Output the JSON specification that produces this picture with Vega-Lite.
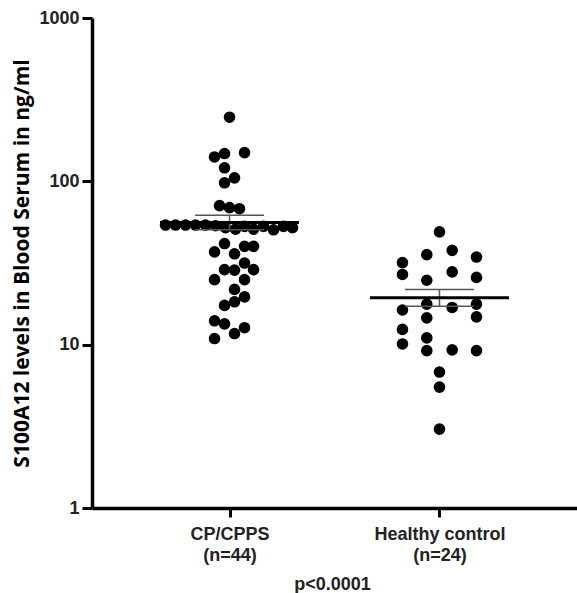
{
  "$schema": "https://vega.github.io/schema/vega-lite/v6.json",
  "width": 485,
  "height": 490,
  "autosize": {"type": "none"},
  "padding": {"left": 92, "top": 18, "right": 0, "bottom": 85},
  "background": "white",
  "config": {"view": {"stroke": null}},
  "datasets": {
    "points": [
      {"group": "CP/CPPS", "value": 247, "swarm": 0},
      {"group": "CP/CPPS", "value": 141, "swarm": -1.5},
      {"group": "CP/CPPS", "value": 148, "swarm": -0.5},
      {"group": "CP/CPPS", "value": 150, "swarm": 1.5},
      {"group": "CP/CPPS", "value": 121, "swarm": -0.5},
      {"group": "CP/CPPS", "value": 105, "swarm": 0.5},
      {"group": "CP/CPPS", "value": 98, "swarm": -0.5},
      {"group": "CP/CPPS", "value": 71, "swarm": -1},
      {"group": "CP/CPPS", "value": 69, "swarm": 0},
      {"group": "CP/CPPS", "value": 68, "swarm": 1},
      {"group": "CP/CPPS", "value": 54, "swarm": -6.4},
      {"group": "CP/CPPS", "value": 54, "swarm": -5.4},
      {"group": "CP/CPPS", "value": 54, "swarm": -4.4},
      {"group": "CP/CPPS", "value": 54, "swarm": -3.4},
      {"group": "CP/CPPS", "value": 54, "swarm": -2.4},
      {"group": "CP/CPPS", "value": 53.5, "swarm": -1.4},
      {"group": "CP/CPPS", "value": 52, "swarm": -0.4},
      {"group": "CP/CPPS", "value": 51, "swarm": 0.6},
      {"group": "CP/CPPS", "value": 53, "swarm": 1.5},
      {"group": "CP/CPPS", "value": 51, "swarm": 2.4},
      {"group": "CP/CPPS", "value": 53, "swarm": 3.4},
      {"group": "CP/CPPS", "value": 50.5, "swarm": 4.4},
      {"group": "CP/CPPS", "value": 53, "swarm": 5.4},
      {"group": "CP/CPPS", "value": 52, "swarm": 6.3},
      {"group": "CP/CPPS", "value": 41.6, "swarm": -0.5},
      {"group": "CP/CPPS", "value": 37, "swarm": -1.5},
      {"group": "CP/CPPS", "value": 40, "swarm": 1.5},
      {"group": "CP/CPPS", "value": 40, "swarm": 2.4},
      {"group": "CP/CPPS", "value": 36, "swarm": 0.5},
      {"group": "CP/CPPS", "value": 31.6, "swarm": 1.5},
      {"group": "CP/CPPS", "value": 28.8, "swarm": -0.5},
      {"group": "CP/CPPS", "value": 28.6, "swarm": 0.5},
      {"group": "CP/CPPS", "value": 28.8, "swarm": 2.4},
      {"group": "CP/CPPS", "value": 25, "swarm": -1.5},
      {"group": "CP/CPPS", "value": 25, "swarm": 1.5},
      {"group": "CP/CPPS", "value": 21.8, "swarm": 0.5},
      {"group": "CP/CPPS", "value": 19.6, "swarm": 1.5},
      {"group": "CP/CPPS", "value": 18.3, "swarm": 0.5},
      {"group": "CP/CPPS", "value": 17.4, "swarm": -0.5},
      {"group": "CP/CPPS", "value": 14, "swarm": -1.5},
      {"group": "CP/CPPS", "value": 13.4, "swarm": -0.5},
      {"group": "CP/CPPS", "value": 12.7, "swarm": 1.5},
      {"group": "CP/CPPS", "value": 11.7, "swarm": 0.5},
      {"group": "CP/CPPS", "value": 10.9, "swarm": -1.5},
      {"group": "Healthy control", "value": 49, "swarm": 0},
      {"group": "Healthy control", "value": 35.6, "swarm": -1.27},
      {"group": "Healthy control", "value": 37.8, "swarm": 1.27},
      {"group": "Healthy control", "value": 31.8, "swarm": -3.7},
      {"group": "Healthy control", "value": 34.4, "swarm": 3.7},
      {"group": "Healthy control", "value": 26.9, "swarm": -3.7},
      {"group": "Healthy control", "value": 27.9, "swarm": 1.27},
      {"group": "Healthy control", "value": 24.8, "swarm": -1.27},
      {"group": "Healthy control", "value": 25.8, "swarm": 3.7},
      {"group": "Healthy control", "value": 17.7, "swarm": -1.27},
      {"group": "Healthy control", "value": 17.7, "swarm": 3.7},
      {"group": "Healthy control", "value": 16.3, "swarm": -3.7},
      {"group": "Healthy control", "value": 16.9, "swarm": 1.27},
      {"group": "Healthy control", "value": 14.6, "swarm": -1.27},
      {"group": "Healthy control", "value": 14.8, "swarm": 3.7},
      {"group": "Healthy control", "value": 12.4, "swarm": -3.7},
      {"group": "Healthy control", "value": 10.1, "swarm": -3.7},
      {"group": "Healthy control", "value": 11, "swarm": -1.27},
      {"group": "Healthy control", "value": 9.2, "swarm": -1.27},
      {"group": "Healthy control", "value": 9.3, "swarm": 1.27},
      {"group": "Healthy control", "value": 9.2, "swarm": 3.7},
      {"group": "Healthy control", "value": 6.8, "swarm": 0},
      {"group": "Healthy control", "value": 5.5, "swarm": 0},
      {"group": "Healthy control", "value": 3.04, "swarm": 0}
    ],
    "stats": [
      {"group": "CP/CPPS", "mean": 56, "lower": 50.5, "upper": 62},
      {"group": "Healthy control", "mean": 19.4, "lower": 17.2, "upper": 21.8}
    ]
  },
  "encoding": {
    "x": {
      "field": "group",
      "type": "nominal",
      "sort": ["CP/CPPS", "Healthy control"],
      "scale": {"type": "point", "padding": 0.655},
      "axis": {
        "title": "p<0.0001",
        "titleFont": "Liberation Sans",
        "titleFontSize": 18,
        "titleFontWeight": "bold",
        "titleColor": "#222",
        "titleX": 240,
        "titleY": 67,
        "titleBaseline": "top",
        "labelFont": "Liberation Sans",
        "labelFontSize": 18,
        "labelFontWeight": "bold",
        "labelColor": "#222",
        "labelAngle": 0,
        "labelBaseline": "top",
        "labelLineHeight": 21,
        "labelPadding": 8,
        "labelExpr": "datum.value == 'CP/CPPS' ? ['CP/CPPS', '(n=44)'] : ['Healthy control', '(n=24)']",
        "domainColor": "black",
        "domainWidth": 3.5,
        "tickColor": "black",
        "tickWidth": 3,
        "tickSize": 9,
        "grid": false
      }
    }
  },
  "layer": [
    {
      "data": {"name": "points"},
      "mark": {"type": "circle", "size": 135, "opacity": 1, "color": "black"},
      "encoding": {
        "y": {
          "field": "value",
          "type": "quantitative",
          "scale": {"type": "log", "domain": [1, 1000], "nice": false},
          "axis": {
            "title": "S100A12 levels in Blood Serum in ng/ml",
            "titleFont": "Open Sans",
            "titleFontSize": 21,
            "titleFontWeight": "bold",
            "titleColor": "black",
            "titleAngle": -90,
            "titleX": -64,
            "titleY": 245,
            "titleAlign": "center",
            "titleBaseline": "alphabetic",
            "values": [1, 10, 100, 1000],
            "format": "d",
            "labelFont": "Liberation Sans",
            "labelFontSize": 18,
            "labelFontWeight": "bold",
            "labelColor": "#222",
            "labelPadding": 3,
            "domainColor": "black",
            "domainWidth": 3.5,
            "tickColor": "black",
            "tickWidth": 3,
            "tickSize": 10,
            "grid": false
          }
        },
        "xOffset": {
          "field": "swarm",
          "type": "quantitative",
          "scale": {"domain": [-10, 10], "range": [-100, 100]}
        }
      }
    },
    {
      "data": {"name": "stats"},
      "mark": {"type": "rule", "color": "#555", "strokeWidth": 1.5},
      "encoding": {
        "y": {"field": "lower", "type": "quantitative"},
        "y2": {"field": "upper"}
      }
    },
    {
      "data": {"name": "stats"},
      "mark": {"type": "tick", "color": "#555", "thickness": 1.5, "size": 69, "opacity": 1},
      "encoding": {"y": {"field": "upper", "type": "quantitative"}}
    },
    {
      "data": {"name": "stats"},
      "mark": {"type": "tick", "color": "#555", "thickness": 1.5, "size": 69, "opacity": 1},
      "encoding": {"y": {"field": "lower", "type": "quantitative"}}
    },
    {
      "data": {"name": "stats"},
      "mark": {"type": "tick", "color": "black", "thickness": 3, "size": 139, "opacity": 1},
      "encoding": {"y": {"field": "mean", "type": "quantitative"}}
    }
  ]
}
